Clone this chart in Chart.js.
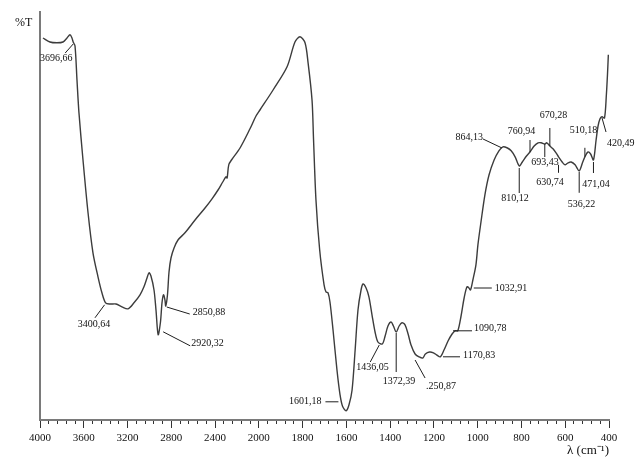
<!DOCTYPE html>
<html>
<head>
<meta charset="utf-8">
<script src="https://cdn.jsdelivr.net/npm/chart.js@4/dist/chart.umd.min.js"></script>
<style>
  html, body { margin: 0; padding: 0; background: #ffffff; }
  #wrap { width: 640px; height: 457px; }
</style>
</head>
<body>
<div id="wrap"><canvas id="ftir" width="640" height="457"></canvas></div>
<script>
// Infrared spectrum: wavenumber (cm-1) against transmittance (%T)
const wavenumbers = [
  3973, 3909, 3845, 3790, 3753, 3726, 3708, 3696.66, 3680, 3662, 3644, 3607, 3561, 3516, 3470, 3434,
  3400.64, 3360, 3305, 3251, 3196, 3141, 3086, 3050, 3022, 3004, 2986, 2958, 2940, 2920.32, 2899, 2885,
  2871, 2858, 2850.88, 2835, 2821, 2803, 2775, 2739, 2675, 2583, 2492, 2428, 2373, 2330, 2300, 2290,
  2275, 2250, 2172, 2081, 2026, 1995, 1935, 1871, 1835, 1812, 1789, 1775, 1757, 1750, 1739, 1722, 1702, 1693,
  1684, 1675, 1661, 1643, 1629, 1618, 1601.18, 1588, 1574, 1560, 1547, 1533, 1524, 1510, 1497, 1483,
  1469, 1456, 1436.05, 1423, 1410, 1396, 1385, 1372.39, 1359, 1346, 1332, 1318, 1305, 1286, 1268,
  1250.87, 1239, 1220, 1202, 1188, 1170.83, 1154, 1135, 1117, 1103, 1090.78, 1076, 1062, 1049, 1040,
  1032.91, 1022, 1008, 999, 985, 967, 948, 925, 903, 885, 864.13, 847, 829, 810.12, 796, 777, 760.94,
  742, 724, 710, 693.43, 684, 670.28, 656, 642, 630.74, 614, 601, 587, 573, 555, 536.22, 520, 510.18,
  496, 484, 471.04, 459, 450, 441, 432, 420.49, 412, 407, 403
];
const transmittance = [
  95.5, 94.5, 94.3, 94.5, 95.5, 96.3, 95.5, 94.5, 93.5, 85, 76.8, 65, 51.8, 41.8, 35.8, 31.8,
  29.3, 29, 29, 28.3, 27.8, 29.3, 31.3, 33.3, 35.5, 36.8, 36, 32.5, 27.5, 21.3, 24.5, 29.3,
  31.3, 30, 28.5, 31.3, 37, 40.5, 43, 45, 46.8, 50, 53, 55.3, 57.5, 59.5, 60.8, 60.5,
  63.8, 65, 68, 72.8, 76, 77.5, 82.5, 88.3, 94.5, 95.8, 94.3, 89.3, 80, 70, 55, 42.5, 33.8, 32,
  31.8, 29.5, 22.5, 12.5, 6.3, 3.5, 2.3, 3.8, 7.5, 17.5, 27.5, 32.5, 34, 33, 30.8, 26.3,
  22, 19.5, 19, 21, 23.5, 24.5, 23.5, 22, 23.5, 24.3, 23.8, 21.5, 18.8, 16.5, 15.8,
  15.5, 16.5, 17, 16.8, 16.3, 15.8, 17.5, 19.8, 21.5, 22.3, 22.3, 26, 30.5, 33.3, 33,
  32.5, 35, 38.8, 43.8, 49.5, 56.3, 61.3, 65, 67.3, 68.3, 68, 67.3, 65.8, 63.5, 64.5, 66, 67,
  68.5, 69.3, 69.3, 69, 69.3, 68.5, 67.8, 66.8, 65.8, 64.5, 63.8, 64.3, 64.5, 63.8, 62.3, 64.5, 65.8,
  67, 66.5, 65, 70, 73.5, 75.3, 75.8, 75.5, 81.3, 86.3, 91.3
];

// Marked band positions and the text printed beside each
const peakWavenumbers = [
  3696.66, 3400.64, 2920.32, 2850.88, 1601.18, 1436.05, 1372.39, 1250.87, 1170.83, 1090.78, 1032.91,
  864.13, 810.12, 760.94, 693.43, 670.28, 630.74, 536.22, 510.18, 471.04, 420.49
];
const peakLabels = [
  '3696,66', '3400,64', '2920,32', '2850,88', '1601,18', '1436,05', '1372,39', '.250,87', '1170,83',
  '1090,78', '1032,91', '864,13', '810,12', '760,94', '693,43', '670,28', '630,74', '536,22',
  '510,18', '471,04', '420,49'
];

// Axis ticks: labelled values and the finer unlabelled marks
const majorTicks = [4000, 3600, 3200, 2800, 2400, 2000, 1800, 1600, 1400, 1200, 1000, 800, 600, 400];
const minorTicks = [
  4000, 3920, 3840, 3760, 3680, 3600, 3520, 3440, 3360, 3280, 3200, 3120, 3040, 2960, 2880, 2800,
  2720, 2640, 2560, 2480, 2400, 2320, 2240, 2160, 2080, 2000,
  1960, 1920, 1880, 1840, 1800, 1760, 1720, 1680, 1640, 1600, 1560, 1520, 1480, 1440, 1400,
  1360, 1320, 1280, 1240, 1200, 1160, 1120, 1080, 1040, 1000, 960, 920, 880, 840, 800,
  760, 720, 680, 640, 600, 560, 520, 480, 440, 400
];

// Wavenumber axis drawn high-to-low, with the range below 2000 cm-1 stretched twofold
const WN_HIGH = 4000, WN_BREAK = 2000, WN_LOW = 400, WN_STRETCH = 2;
class WavenumberScale extends Chart.LinearScale {
  getPixelForValue(value) {
    const total = (WN_HIGH - WN_BREAK) + (WN_BREAK - WN_LOW) * WN_STRETCH;
    const d = value >= WN_BREAK
      ? (WN_HIGH - value)
      : (WN_HIGH - WN_BREAK) + (WN_BREAK - value) * WN_STRETCH;
    return this.getPixelForDecimal(d / total);
  }
  getValueForPixel(pixel) {
    const total = (WN_HIGH - WN_BREAK) + (WN_BREAK - WN_LOW) * WN_STRETCH;
    const d = this.getDecimalForPixel(pixel) * total;
    const first = WN_HIGH - WN_BREAK;
    return d <= first ? WN_HIGH - d : WN_BREAK - (d - first) / WN_STRETCH;
  }
}
WavenumberScale.id = 'wavenumber';
WavenumberScale.defaults = Chart.LinearScale.defaults;
Chart.register(WavenumberScale);

const SERIF = "'Liberation Serif', 'Times New Roman', serif";
const AXIS_GREY = '#7a7a7a';

// Leader line (from, to) and text anchor, offsets in px from each marked point
const calloutLayout = [
  { l: [0, 2, -8, 11],      t: [-17, 16, 'center'] },
  { l: [-1, 2, -10.6, 15],  t: [-11.6, 22, 'center'] },
  { l: [5, -3, 32, 11],     t: [33, 9, 'left'] },
  { l: [1, 1, 24, 8],       t: [27, 6, 'left'] },
  { l: [-20.7, -9, -7.7, -9], t: [-24.7, -9, 'right'] },
  { l: [-3, 1, -12, 18],    t: [-9.7, 23, 'center'] },
  { l: [0, 1, 0, 40],       t: [2.8, 49, 'center'] },
  { l: [-7.7, 2, 2.3, 20],  t: [3.3, 28, 'left'] },
  { l: [2.7, 0, 19.7, 0],   t: [22.7, -1, 'left'] },
  { l: [-4.8, 0, 14.2, 0],  t: [16.2, -2, 'left'] },
  { l: [3.3, -2, 21.3, -2], t: [24.3, -2, 'left'] },
  { l: [-5.4, 0, -24.4, -9], t: [-24.4, -11, 'right'] },
  { l: [0, 2, 0, 27],       t: [-4.2, 32, 'center'] },
  { l: [0, -12, 0, 0],      t: [-8.5, -21, 'center'] },
  { l: [0, 0, 0, 13],       t: [0.3, 18, 'center'] },
  { l: [0, -18, 0, 0],      t: [3.7, -31, 'center'] },
  { l: [0, 8, 0, 16],       t: [-8.5, 26, 'center'] },
  { l: [0, 1, 0, 22],       t: [2.3, 34, 'center'] },
  { l: [0, -9, 0, 0],       t: [-1.4, -26, 'center'] },
  { l: [0, 2, 0, 13],       t: [2.6, 24, 'center'] },
  { l: [-2.5, 0, 1.5, 14],  t: [2.5, 25, 'left'] }
];

const bandCallouts = {
  id: 'bandCallouts',
  afterDatasetsDraw(chart) {
    const { ctx } = chart;
    const xs = chart.scales.x, ys = chart.scales.y;
    ctx.save();
    ctx.strokeStyle = '#1e1e1e';
    ctx.lineWidth = 1;
    ctx.fillStyle = '#111111';
    ctx.font = '10px ' + SERIF;
    ctx.textBaseline = 'middle';
    peakWavenumbers.forEach((w, i) => {
      const k = wavenumbers.indexOf(w);
      const px = xs.getPixelForValue(w);
      const py = ys.getPixelForValue(transmittance[k]);
      const c = calloutLayout[i];
      ctx.beginPath();
      ctx.moveTo(px + c.l[0], py + c.l[1]);
      ctx.lineTo(px + c.l[2], py + c.l[3]);
      ctx.stroke();
      ctx.textAlign = c.t[2];
      ctx.fillText(peakLabels[i], px + c.t[0], py + c.t[1]);
    });
    // ordinate caption
    ctx.font = '12px ' + SERIF;
    ctx.textAlign = 'left';
    ctx.fillText('%T', 15, 23);
    ctx.restore();
  }
};

new Chart(document.getElementById('ftir'), {
  type: 'line',
  data: {
    datasets: [{
      data: wavenumbers.map((w, i) => ({ x: w, y: transmittance[i] })),
      borderColor: '#3c3c3c',
      borderWidth: 1.4,
      pointRadius: 0,
      tension: 0.3,
      fill: false
    }]
  },
  options: {
    responsive: false,
    animation: false,
    devicePixelRatio: 1,
    layout: { padding: { top: 12, right: 31, bottom: 0, left: 0 } },
    plugins: { legend: { display: false }, tooltip: { enabled: false } },
    scales: {
      xMinor: {
        type: 'wavenumber',
        position: 'bottom',
        weight: -1,
        min: WN_LOW, max: WN_HIGH,
        afterBuildTicks: s => { s.ticks = minorTicks.map(v => ({ value: v })); },
        afterFit: s => { s.height = 0; },
        ticks: { display: false, autoSkip: false },
        grid: { drawOnChartArea: false, drawTicks: true, tickLength: 4, tickColor: '#333333', tickWidth: 1 },
        border: { display: false }
      },
      x: {
        type: 'wavenumber',
        position: 'bottom',
        weight: 0,
        min: WN_LOW, max: WN_HIGH,
        afterBuildTicks: s => { s.ticks = majorTicks.map(v => ({ value: v })); },
        afterFit: s => { s.height = 37; },
        ticks: {
          autoSkip: false, maxRotation: 0, minRotation: 0, padding: 4,
          color: '#111111', font: { family: SERIF, size: 11 },
          callback: v => String(v)
        },
        grid: { drawOnChartArea: false, drawTicks: true, tickLength: 8, tickColor: '#333333', tickWidth: 1 },
        border: { display: true, color: AXIS_GREY, width: 2 },
        title: {
          display: true, text: 'λ (cm⁻¹)', align: 'end',
          color: '#111111', font: { family: SERIF, size: 13, lineHeight: 1 },
          padding: { top: 0, bottom: 0 }
        }
      },
      y: {
        type: 'linear',
        position: 'left',
        min: 0, max: 102,
        afterFit: s => { s.width = 40; },
        ticks: { display: false },
        grid: { drawOnChartArea: false, drawTicks: false },
        border: { display: true, color: AXIS_GREY, width: 2 }
      }
    }
  },
  plugins: [bandCallouts]
});
</script>
</body>
</html>
